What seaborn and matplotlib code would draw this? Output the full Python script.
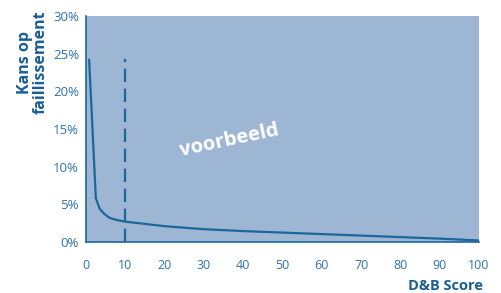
import numpy as np
import pandas as pd
import matplotlib
matplotlib.use("Agg")
import matplotlib.pyplot as plt
import seaborn as sb

# Values
score = [0.8, 2.5, 3.5, 4.5, 6, 8, 10, 15, 20, 30, 40, 50, 60, 70, 80, 90, 100]
kans = [24.2, 5.8, 4.4, 3.8, 3.2, 2.9, 2.7, 2.4, 2.1, 1.7, 1.45, 1.25, 1.05, 0.85, 0.65, 0.45, 0.2]
grens_score = 10
grens_top = 24.3
x_ticks = [0, 10, 20, 30, 40, 50, 60, 70, 80, 90, 100]
y_ticks = [0, 5, 10, 15, 20, 25, 30]

line_col = "#1b679c"
text_col = "#2c73ad"
label_col = "#1a5e96"
bg_col = "#9db6d4"

sb.set_style("white")
plt.rcParams['font.family'] = ['Open Sans', 'DejaVu Sans']

df = pd.DataFrame({"score": score, "kans": kans})

fig = plt.figure(figsize=(5.01, 2.93), dpi=100)
ax = fig.add_axes([86 / 501, 1 - 242 / 293, 393 / 501, 226 / 293])
ax.set_facecolor(bg_col)

sb.lineplot(data=df, x="score", y="kans", color=line_col, linewidth=1.6, ax=ax)
ax.plot([grens_score, grens_score], [0, grens_top], color=line_col,
        linewidth=1.6, linestyle=(0, (6, 3)))

ax.set_xlim(0, 100)
ax.set_ylim(0, 30)
ax.set_xticks(x_ticks)
ax.set_yticks(y_ticks)
ax.set_yticklabels([f"{v}%" for v in y_ticks])
ax.tick_params(axis="x", direction="in", length=4, width=1, color=line_col,
               labelcolor=text_col, labelsize=9, pad=12)
ax.tick_params(axis="y", direction="out", length=4, width=1, color=line_col,
               labelcolor=text_col, labelsize=9.5, pad=1)
for side in ["top", "right"]:
    ax.spines[side].set_visible(False)
for side in ["left", "bottom"]:
    ax.spines[side].set_color(line_col)
    ax.spines[side].set_linewidth(1.2)
ax.set_xlabel("")
ax.set_ylabel("")

ax.text(36.4, 13.5, "voorbeeld", color="white", fontsize=14.5, fontweight="bold",
        rotation=12, ha="center", va="center")

fig.text(33 / 501, 1 - 62 / 293, "Kans op\nfaillissement", rotation=90,
         ha="center", va="center", color=label_col, fontsize=11.5,
         fontweight="bold", linespacing=0.95)
fig.text(483 / 501, 1 - 286 / 293, "D&B Score", ha="right", va="center",
         color=label_col, fontsize=10.5, fontweight="bold")

plt.savefig("out.png", dpi=100)
